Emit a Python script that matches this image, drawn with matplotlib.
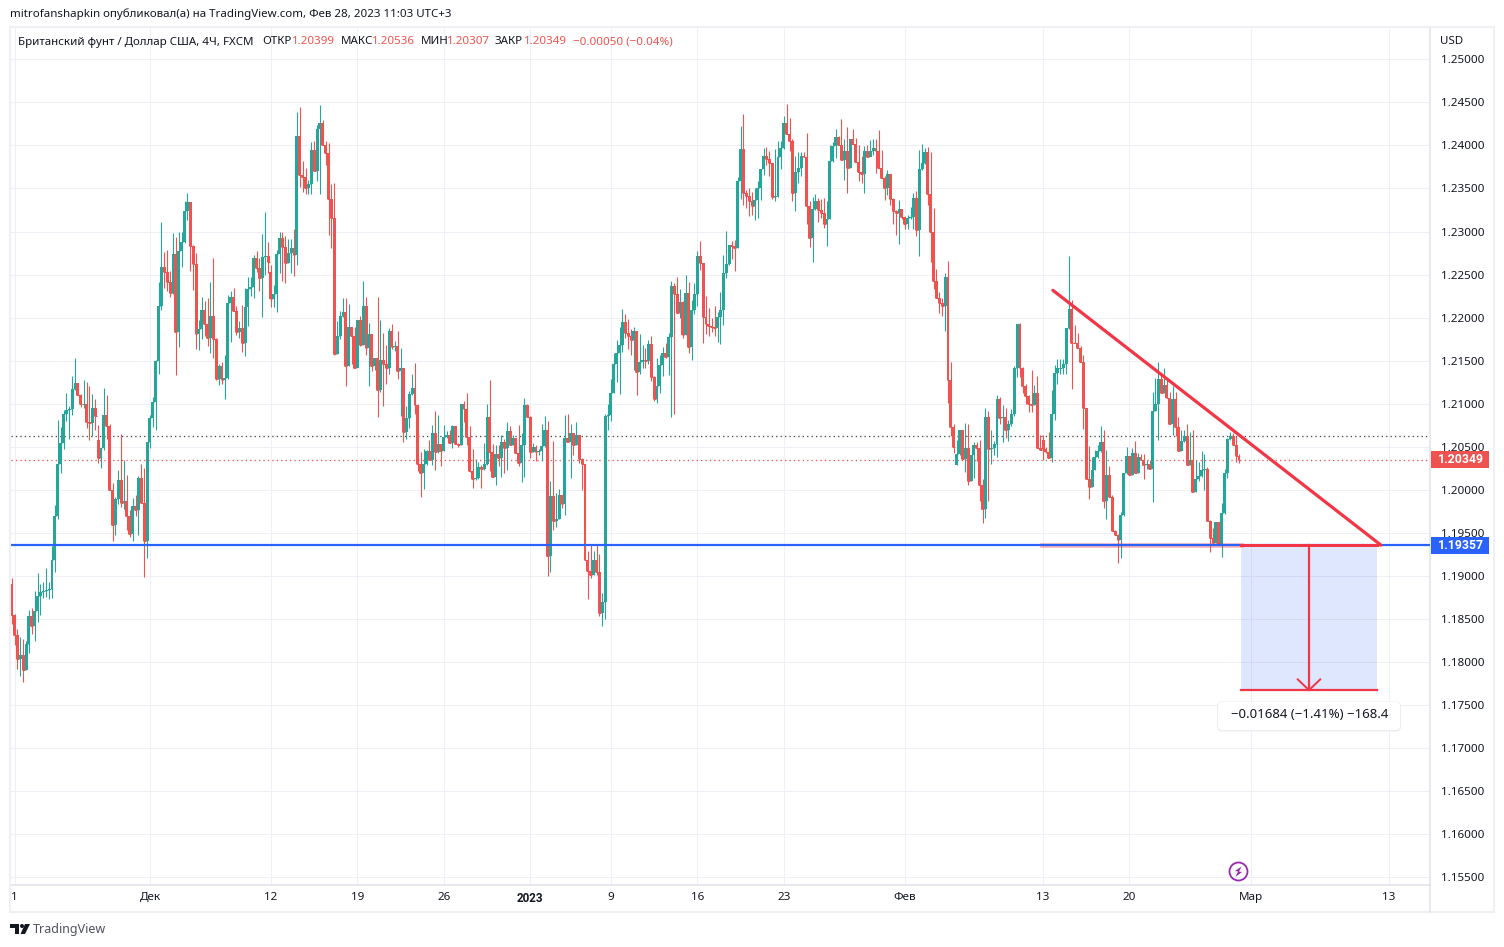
import matplotlib
matplotlib.use("Agg")
import matplotlib.pyplot as plt
from matplotlib.patches import Rectangle, Circle, Polygon, FancyBboxPatch
from matplotlib.transforms import IdentityTransform

plt.rcParams['font.family'] = ['Noto Sans', 'DejaVu Sans']

# Svechi GBPUSD 4H, ceny v pipsah (1.2034 -> 12034)
first_open = 11891
closes = [
    11855, 11831, 11804, 11808, 11791, 11821, 11853, 11842, 11859, 11877,
    11881, 11883, 11884, 11885, 11919, 11970, 12030, 12054, 12088, 12093,
    12094, 12117, 12124, 12110, 12100, 12100, 12079, 12078, 12095, 12086,
    12037, 12049, 12087, 12074, 12000, 11959, 11989, 12011, 11985, 11987,
    11970, 11949, 11981, 11977, 12014, 11985, 11941, 12055, 12083, 12102,
    12150, 12213, 12259, 12253, 12241, 12229, 12274, 12183, 12277, 12288,
    12324, 12334, 12283, 12262, 12181, 12187, 12209, 12193, 12176, 12202,
    12175, 12129, 12144, 12127, 12130, 12217, 12224, 12208, 12183, 12188,
    12170, 12212, 12233, 12236, 12269, 12258, 12246, 12270, 12271, 12265,
    12222, 12227, 12274, 12292, 12282, 12263, 12275, 12281, 12273, 12411,
    12366, 12363, 12351, 12355, 12395, 12370, 12419, 12426, 12400, 12391,
    12338, 12316, 12158, 12179, 12202, 12207, 12144, 12189, 12179, 12141,
    12197, 12168, 12213, 12165, 12181, 12144, 12153, 12116, 12151, 12146,
    12142, 12184, 12166, 12167, 12138, 12142, 12067, 12083, 12111, 12118,
    12099, 12030, 12020, 12030, 12045, 12035, 12066, 12044, 12053, 12045,
    12061, 12064, 12054, 12074, 12053, 12052, 12100, 12094, 12061, 12022,
    12013, 12014, 12027, 12024, 12030, 12084, 12044, 12015, 12041, 12037,
    12056, 12049, 12068, 12052, 12060, 12043, 12031, 12052, 12099, 12085,
    12044, 12050, 12044, 12045, 12051, 12070, 11923, 11993, 11964, 11966,
    11994, 11983, 12060, 12056, 12066, 12052, 12064, 12036, 12030, 11918,
    11906, 11901, 11918, 11904, 11857, 11870, 12086, 12087, 12113, 12146,
    12159, 12168, 12195, 12182, 12179, 12174, 12184, 12137, 12148, 12151,
    12150, 12169, 12131, 12105, 12120, 12145, 12159, 12154, 12177, 12237,
    12227, 12205, 12218, 12180, 12229, 12166, 12209, 12227, 12272, 12263,
    12201, 12193, 12190, 12189, 12188, 12201, 12209, 12252, 12262, 12284,
    12283, 12281, 12359, 12396, 12345, 12341, 12336, 12330, 12337, 12350,
    12373, 12388, 12384, 12379, 12340, 12341, 12387, 12397, 12426, 12413,
    12405, 12345, 12369, 12374, 12388, 12386, 12330, 12292, 12326, 12335,
    12325, 12321, 12309, 12315, 12382, 12399, 12410, 12400, 12383, 12393,
    12374, 12407, 12402, 12381, 12369, 12367, 12393, 12387, 12393, 12397,
    12393, 12374, 12362, 12351, 12367, 12338, 12324, 12321, 12326, 12317,
    12309, 12316, 12317, 12339, 12302, 12373, 12379, 12392, 12344, 12300,
    12243, 12223, 12217, 12213, 12247, 12127, 12073, 12050, 12042, 12069,
    12036, 12049, 12010, 12040, 12052, 12049, 12005, 11978, 12085, 12047,
    12048, 12053, 12106, 12083, 12084, 12069, 12076, 12088, 12141, 12193,
    12142, 12121, 12109, 12100, 12099, 12113, 12048, 12046, 12047, 12044,
    12037, 12088, 12136, 12141, 12142, 12146, 12188, 12210, 12171, 12170,
    12165, 12149, 12095, 12013, 12003, 12023, 12038, 12045, 12055, 11987,
    12017, 11992, 11952, 11948, 11942, 11971, 12020, 12039, 12017, 12043,
    12020, 12038, 12035, 12029, 12030, 12024, 12092, 12100, 12129, 12112,
    12122, 12107, 12077, 12106, 12073, 12045, 12057, 12063, 12029, 12035,
    11998, 12012, 12016, 12023, 12024, 11964, 11944, 11938, 11963, 11936,
    11973, 12020, 12059, 12063, 12052, 12039, 12035,
]
highs = [
    11897, 11856, 11838, 11829, 11827, 11824, 11860, 11863, 11883, 11903,
    11891, 11893, 11909, 11893, 11935, 11982, 12081, 12073, 12093, 12113,
    12097, 12132, 12153, 12124, 12111, 12127, 12125, 12120, 12111, 12105,
    12075, 12049, 12118, 12110, 12076, 12008, 11992, 12023, 12065, 12035,
    12017, 11977, 11990, 11994, 12016, 12030, 12025, 12055, 12087, 12108,
    12151, 12241, 12311, 12276, 12279, 12254, 12298, 12294, 12300, 12300,
    12336, 12345, 12334, 12284, 12275, 12197, 12224, 12219, 12223, 12241,
    12269, 12176, 12146, 12149, 12156, 12226, 12231, 12234, 12213, 12196,
    12215, 12234, 12247, 12247, 12273, 12277, 12269, 12297, 12323, 12288,
    12261, 12238, 12279, 12300, 12300, 12295, 12291, 12291, 12303, 12439,
    12445, 12382, 12374, 12360, 12404, 12405, 12424, 12447, 12429, 12405,
    12403, 12355, 12356, 12196, 12208, 12223, 12223, 12216, 12189, 12189,
    12197, 12202, 12243, 12224, 12194, 12181, 12153, 12224, 12197, 12182,
    12168, 12188, 12193, 12173, 12184, 12165, 12142, 12097, 12115, 12135,
    12147, 12100, 12044, 12047, 12046, 12058, 12075, 12091, 12087, 12053,
    12075, 12068, 12070, 12075, 12074, 12054, 12100, 12103, 12113, 12074,
    12047, 12036, 12032, 12029, 12054, 12100, 12127, 12053, 12052, 12052,
    12064, 12059, 12079, 12074, 12064, 12060, 12075, 12066, 12107, 12100,
    12086, 12054, 12052, 12047, 12077, 12086, 12080, 12010, 12057, 11996,
    12001, 11994, 12087, 12088, 12077, 12066, 12079, 12064, 12037, 12030,
    11929, 11936, 11929, 11936, 11926, 11880, 12088, 12100, 12129, 12159,
    12174, 12189, 12210, 12204, 12198, 12187, 12189, 12184, 12181, 12168,
    12165, 12174, 12179, 12132, 12153, 12156, 12166, 12170, 12182, 12243,
    12240, 12247, 12233, 12219, 12250, 12241, 12220, 12240, 12277, 12289,
    12263, 12225, 12211, 12200, 12213, 12206, 12230, 12273, 12301, 12284,
    12289, 12290, 12363, 12423, 12437, 12348, 12350, 12346, 12350, 12359,
    12373, 12397, 12398, 12394, 12380, 12396, 12405, 12405, 12434, 12448,
    12432, 12407, 12388, 12392, 12392, 12392, 12414, 12335, 12340, 12343,
    12339, 12338, 12339, 12336, 12400, 12404, 12419, 12411, 12431, 12407,
    12421, 12407, 12419, 12409, 12400, 12388, 12399, 12400, 12406, 12407,
    12407, 12418, 12395, 12364, 12372, 12367, 12339, 12325, 12337, 12326,
    12318, 12319, 12329, 12345, 12347, 12395, 12402, 12397, 12398, 12392,
    12327, 12256, 12230, 12223, 12252, 12266, 12148, 12076, 12058, 12069,
    12070, 12078, 12076, 12040, 12056, 12056, 12058, 12012, 12095, 12091,
    12070, 12057, 12110, 12108, 12098, 12095, 12081, 12094, 12144, 12193,
    12194, 12143, 12123, 12110, 12139, 12122, 12132, 12064, 12064, 12050,
    12067, 12116, 12145, 12152, 12152, 12152, 12188, 12271, 12221, 12191,
    12182, 12167, 12156, 12095, 12051, 12038, 12046, 12052, 12074, 12070,
    12046, 12028, 11994, 11953, 11949, 11974, 12020, 12050, 12036, 12048,
    12057, 12043, 12042, 12042, 12035, 12035, 12114, 12130, 12149, 12134,
    12142, 12127, 12114, 12121, 12114, 12084, 12070, 12069, 12077, 12067,
    12070, 12035, 12032, 12045, 12042, 12027, 11965, 11956, 11963, 11963,
    11985, 12024, 12060, 12067, 12066, 12063, 12041,
]
lows = [
    11844, 11820, 11792, 11784, 11777, 11791, 11810, 11833, 11824, 11846,
    11855, 11874, 11875, 11873, 11874, 11904, 11966, 12019, 12047, 12080,
    12059, 12087, 12116, 12110, 12096, 12095, 12072, 12058, 12063, 12070,
    12031, 12025, 12046, 12059, 12000, 11940, 11948, 11983, 11980, 11978,
    11953, 11945, 11941, 11970, 11947, 11985, 11899, 11921, 12048, 12073,
    12069, 12134, 12209, 12234, 12231, 12224, 12227, 12133, 12166, 12259,
    12287, 12313, 12254, 12232, 12163, 12162, 12175, 12179, 12167, 12159,
    12153, 12127, 12122, 12123, 12106, 12129, 12172, 12208, 12180, 12176,
    12160, 12155, 12190, 12225, 12223, 12253, 12231, 12201, 12250, 12252,
    12212, 12212, 12206, 12252, 12243, 12240, 12263, 12252, 12248, 12261,
    12352, 12346, 12343, 12344, 12343, 12370, 12359, 12344, 12400, 12377,
    12296, 12281, 12156, 12158, 12175, 12201, 12120, 12144, 12146, 12141,
    12145, 12167, 12168, 12156, 12121, 12138, 12139, 12085, 12114, 12097,
    12123, 12134, 12164, 12161, 12129, 12086, 12056, 12059, 12072, 12110,
    12088, 12022, 11992, 12001, 12029, 12035, 12029, 12023, 12043, 12028,
    12045, 12060, 12054, 12049, 12053, 12050, 12052, 12079, 12052, 12021,
    12002, 12011, 12013, 12002, 12023, 12029, 12022, 12015, 12006, 12028,
    12015, 12020, 12023, 12052, 12052, 12043, 12028, 12009, 12015, 12085,
    12037, 12044, 12034, 12040, 12034, 12050, 11900, 11904, 11953, 11957,
    11966, 11979, 11971, 12056, 12014, 12040, 12052, 12031, 12000, 11918,
    11873, 11897, 11901, 11901, 11853, 11842, 11850, 12070, 12080, 12112,
    12125, 12111, 12160, 12176, 12163, 12156, 12139, 12110, 12134, 12141,
    12141, 12146, 12126, 12103, 12101, 12113, 12132, 12153, 12133, 12084,
    12088, 12205, 12200, 12176, 12180, 12159, 12151, 12204, 12213, 12255,
    12170, 12181, 12179, 12183, 12179, 12172, 12169, 12191, 12246, 12261,
    12268, 12254, 12281, 12338, 12331, 12327, 12318, 12319, 12313, 12316,
    12337, 12366, 12377, 12365, 12338, 12336, 12340, 12373, 12396, 12413,
    12394, 12336, 12324, 12356, 12364, 12386, 12309, 12282, 12264, 12325,
    12311, 12316, 12304, 12283, 12314, 12381, 12385, 12400, 12383, 12360,
    12345, 12374, 12402, 12381, 12359, 12356, 12345, 12387, 12389, 12389,
    12368, 12374, 12362, 12337, 12342, 12331, 12309, 12296, 12285, 12314,
    12303, 12303, 12315, 12303, 12295, 12272, 12372, 12378, 12331, 12265,
    12233, 12223, 12205, 12202, 12184, 12101, 12063, 12043, 12029, 12040,
    12036, 12021, 12006, 12010, 12014, 12034, 11987, 11962, 11967, 11987,
    12030, 12040, 12038, 12076, 12055, 12060, 12057, 12074, 12086, 12131,
    12131, 12112, 12100, 12090, 12090, 12099, 12048, 12046, 12035, 12043,
    12037, 12032, 12081, 12123, 12135, 12135, 12134, 12187, 12117, 12170,
    12165, 12149, 12071, 12013, 11989, 12003, 12023, 12037, 12044, 11979,
    11966, 11992, 11952, 11948, 11915, 11921, 11970, 12018, 12017, 12017,
    12020, 12020, 12035, 12013, 12024, 12024, 11986, 12091, 12058, 12112,
    12112, 12107, 12077, 12064, 12062, 12045, 12045, 12056, 12029, 12029,
    11998, 11998, 12010, 12015, 12000, 11964, 11928, 11938, 11938, 11936,
    11922, 11972, 12014, 12058, 12052, 12032, 12031,
]
# Svechi, otkryvshiesya s razryvom (vyhodnye)
gap_opens = {30: 12058, 90: 12253, 328: 12029, 358: 12058}

y_ticks = [1.155, 1.16, 1.165, 1.17, 1.175, 1.18, 1.185, 1.19, 1.195, 1.20,
           1.205, 1.21, 1.215, 1.22, 1.225, 1.23, 1.235, 1.24, 1.245, 1.25]
x_tick_bars = [1, 48, 90, 120, 150, 180, 208, 238, 268, 310, 358, 388, 430, 478]
x_tick_labels = ['1', 'Дек', '12', '19', '26', '2023', '9', '16', '23', 'Фев', '13', '20', 'Мар', '13']

last_price = 1.20349
level_price = 1.19357
high_line = 1.20625
target_price = 1.17673
trend_x = [361.4, 475.3]
trend_y = [1.22317, 1.19357]
level_x = [357.6, 426.7]
box_x = [426.7, 473.9]
arrow_x = 450.3

GREEN = '#26a69a'
RED = '#ef5350'
DRAW_RED = '#f23645'
BLUE = '#2962ff'
GRID = '#eef0f5'
EDGE = '#e0e3eb'
TEXT = '#131722'
PX = 0.72  # odin piksel v punktah pri dpi=100

W, H = 1504, 947
fig = plt.figure(figsize=(W / 100, H / 100), dpi=100, facecolor='white')
left, right, top, bottom = 11, 1430, 28, 885
ax = fig.add_axes([left / W, 1 - bottom / H, (right - left) / W, (bottom - top) / H])

bar_px = 2.881
y0 = 59.3  # piksel urovnya 1.25
ax.set_xlim((left - 11.67) / bar_px, (right - 11.67) / bar_px)
ax.set_ylim(1.25 - (bottom - y0) / 8610, 1.25 + (y0 - top) / 8610)

opens = [first_open] + closes[:-1]
for k, v in gap_opens.items():
    opens[k] = v
assert len(closes) == len(highs) == len(lows), (len(closes), len(highs), len(lows))

# Setka
ax.set_axisbelow(True)
ax.grid(True, color=GRID, linewidth=PX)
ax.set_yticks(y_ticks)
ax.set_yticklabels([f'{v:.5f}' for v in y_ticks])
ax.set_xticks(x_tick_bars)
ax.set_xticklabels(x_tick_labels)
ax.yaxis.tick_right()
ax.tick_params(axis='both', length=0, labelsize=8.4, labelcolor=TEXT)
ax.tick_params(axis='y', pad=8)
ax.tick_params(axis='x', pad=5)
ax.get_xticklabels()[5].set_fontweight('bold')
ax.get_xticklabels()[5].set_family(['Roboto', 'DejaVu Sans'])
for name in ('top', 'left'):
    ax.spines[name].set_visible(False)
for name in ('right', 'bottom'):
    ax.spines[name].set_color(EDGE)
    ax.spines[name].set_linewidth(1.1)

# Punktirnye linii
ax.axhline(high_line, color='#444444', linewidth=PX * 1.3, linestyle=(0, (1, 2.4)), zorder=1)
ax.axhline(last_price, color=RED, linewidth=PX * 1.3, linestyle=(0, (1, 2.4)), zorder=1)

# Svechi
for i in range(len(closes)):
    o = opens[i] / 10000
    c = closes[i] / 10000
    color = GREEN if closes[i] >= opens[i] else RED
    ax.vlines(i, lows[i] / 10000, highs[i] / 10000, color=color, linewidth=PX * 1.1, zorder=3)
    ax.bar(i, abs(c - o), bottom=min(o, c), width=1.02, color=color, linewidth=0, zorder=3)
    # tonkie tela tozhe dolzhny byt vidny
    ax.hlines(c, i - 0.5, i + 0.5, color=color, linewidth=PX, zorder=3)

# Risunki poverh grafika
ax.axhline(level_price, color=BLUE, linewidth=PX * 2.2, zorder=5)
ax.plot(level_x, [level_price, level_price], color=DRAW_RED, alpha=0.4, linewidth=PX * 4.5, zorder=4)
ax.plot(trend_x, trend_y, color=DRAW_RED, linewidth=PX * 3.2, zorder=6, solid_capstyle='round')

ax.add_patch(Rectangle((box_x[0], target_price), box_x[1] - box_x[0], level_price - target_price,
                       facecolor=BLUE, alpha=0.15, linewidth=0, zorder=2))
ax.plot(box_x, [level_price, level_price], color=DRAW_RED, linewidth=PX * 3, zorder=6)
ax.plot(box_x, [target_price, target_price], color=DRAW_RED, linewidth=PX * 2.2, zorder=6)
ax.plot([arrow_x, arrow_x], [level_price, target_price], color=DRAW_RED, linewidth=PX * 2.2, zorder=6)
ax.plot([arrow_x - 3.9, arrow_x, arrow_x + 3.9],
        [target_price + 0.00125, target_price, target_price + 0.00125],
        color=DRAW_RED, linewidth=PX * 2, zorder=6)

# Metki ceny na pravoj shkale
lab_w = 58 / (right - left)
lab_h = 17 / 8610
for price, color in ((last_price, RED), (level_price, BLUE)):
    ax.add_patch(Rectangle((1.0005, price - lab_h / 2), lab_w, lab_h, transform=ax.get_yaxis_transform(),
                           facecolor=color, linewidth=0, clip_on=False, zorder=7))
    ax.text(1 + 31 / (right - left), price, f'{price:.5f}', transform=ax.get_yaxis_transform(), ha='center',
            va='center', color='white', fontsize=8.8, fontweight='bold', family=['Roboto', 'DejaVu Sans'], zorder=8)

# Ramka paneli
px_tr = IdentityTransform()
fig.add_artist(Rectangle((10, H - 912), 1484, 885, transform=px_tr, fill=False, edgecolor='#eff0f3', linewidth=1.5))
fig.add_artist(plt.Line2D([right, right], [H - 912, H - 885], transform=px_tr, color=EDGE, linewidth=1.1))

# Plashka izmereniya s tenyu
fig.add_artist(FancyBboxPatch((1217, H - 731.5), 184, 30, boxstyle='round,pad=0,rounding_size=5', transform=px_tr,
                              facecolor='#dfe2e8', edgecolor='none', alpha=0.6))
fig.add_artist(FancyBboxPatch((1218, H - 730), 182, 28, boxstyle='round,pad=0,rounding_size=4', transform=px_tr,
                              facecolor='white', edgecolor='none'))

# Zagolovok
def put(x, y, s, **kw):
    kw.setdefault('color', TEXT)
    kw.setdefault('fontsize', 8.3)
    fig.text(x / W, 1 - y / H, s, va='center', ha=kw.pop('ha', 'left'), **kw)

put(1309.5, 714.5, '−0.01684 (−1.41%) −168.4', ha='center', fontsize=9.5)
put(10, 14, 'mitrofanshapkin опубликовал(а) на TradingView.com, Фев 28, 2023 11:03 UTC+3')
put(18, 42, 'Британский фунт / Доллар США, 4Ч, FXCM')
put(262, 42, 'ОТКР')
put(292, 42, '1.20399', color=RED)
put(341, 42, 'МАКС')
put(372, 42, '1.20536', color=RED)
put(421, 42, 'МИН')
put(447, 42, '1.20307', color=RED)
put(495, 42, 'ЗАКР')
put(524, 42, '1.20349', color=RED)
put(573, 42, '−0.00050 (−0.04%)', color=RED)
put(1440, 41, 'USD')

# Znachok molnii
fig.add_artist(Circle((1238.5, H - 871.5), 9, transform=px_tr, fill=False, edgecolor='#9c27b0', linewidth=1.3))
fig.add_artist(Polygon([(1241.5, H - 866.5), (1235, H - 871), (1238, H - 871.5), (1235.5, H - 877),
                        (1242, H - 872), (1239, H - 871.5)],
                       transform=px_tr, facecolor='#9c27b0', edgecolor='none'))

# Logotip TradingView
logo = '#131722'
fig.add_artist(Polygon([(10, H - 924), (19, H - 924), (19, H - 934), (15, H - 934), (15, H - 928), (10, H - 928)],
                       transform=px_tr, facecolor=logo, edgecolor='none'))
fig.add_artist(Circle((22, H - 926), 2, transform=px_tr, facecolor=logo, edgecolor='none'))
fig.add_artist(Polygon([(25, H - 924), (30, H - 924), (25, H - 934), (20.5, H - 934)],
                       transform=px_tr, facecolor=logo, edgecolor='none'))
put(33, 929, 'TradingView', color='#50535e', fontsize=9.0)

fig.savefig('out.png', dpi=100, facecolor='white')
